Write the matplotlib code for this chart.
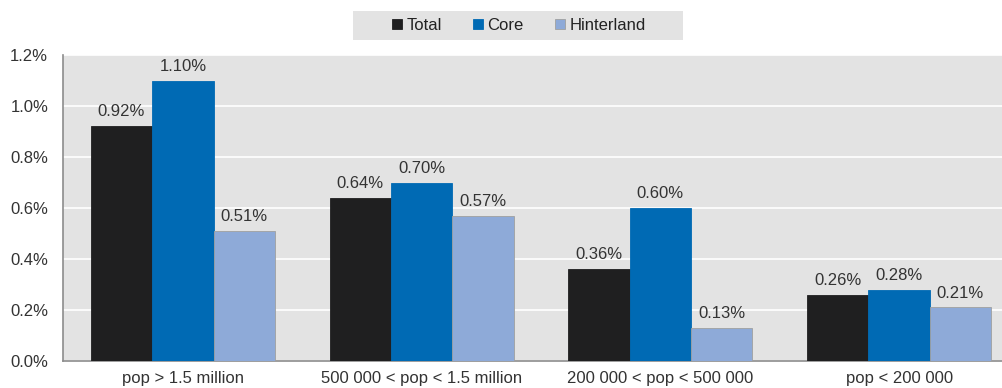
import numpy as np
import matplotlib
matplotlib.use("Agg")
import matplotlib.pyplot as plt
from matplotlib.ticker import FuncFormatter
from matplotlib.patches import Rectangle

categories = ["pop > 1.5 million", "500 000 < pop < 1.5 million",
              "200 000 < pop < 500 000", "pop < 200 000"]
total = [0.92, 0.64, 0.36, 0.26]
core = [1.10, 0.70, 0.60, 0.28]
hinterland = [0.51, 0.57, 0.13, 0.21]
series_names = ["Total", "Core", "Hinterland"]
colors = ["#1f1f20", "#006ab4", "#8eaad8"]


def main():
    plt.rcParams['font.family'] = ['Liberation Sans', 'DejaVu Sans']
    fig = plt.figure(figsize=(10.03, 3.88), dpi=100)
    # plot area runs past the right edge of the picture (cropped chart)
    ax = fig.add_axes([63.5 / 1003, 27 / 388, 955 / 1003, 306 / 388])
    ax.set_facecolor("#e3e3e3")

    x = np.arange(len(categories))
    w = 0.257
    handles = []
    for i, (vals, name, c) in enumerate(zip([total, core, hinterland], series_names, colors)):
        bars = ax.bar(x + (i - 1) * w, vals, w, color=c, label=name, zorder=3,
                      edgecolor="#a0a0a0" if i == 2 else c, linewidth=0.6)
        handles.append(bars)
        for xi, v in zip(x + (i - 1) * w, vals):
            ax.annotate("%.2f%%" % v, (xi, v), xytext=(0, 5), textcoords="offset points",
                        ha="center", va="bottom", fontsize=12, color="#333333", zorder=4)

    ax.set_xlim(-0.5, len(categories) - 0.5)
    ax.set_ylim(0, 1.2)
    ax.set_yticks(np.arange(0, 1.21, 0.2))
    ax.yaxis.set_major_formatter(FuncFormatter(lambda v, p: "%.1f%%" % v))
    ax.set_xticks(x)
    ax.set_xticklabels(categories)
    ax.tick_params(axis="both", length=0, labelsize=12, colors="#333333")
    ax.tick_params(axis="y", pad=11)
    ax.tick_params(axis="x", pad=7)
    ax.grid(axis="y", color="white", linewidth=1.2, zorder=0)
    for s in ["top", "right"]:
        ax.spines[s].set_visible(False)
    for s in ["left", "bottom"]:
        ax.spines[s].set_color("#8c8c8c")
        ax.spines[s].set_linewidth(1.2)

    # legend box at top
    fig.patches.append(Rectangle((353 / 1003, 1 - 40 / 388), 330 / 1003, 29 / 388,
                                 transform=fig.transFigure, facecolor="#e3e3e3",
                                 edgecolor="none", zorder=0))
    leg = fig.legend(handles=handles, labels=series_names, loc="center",
                     bbox_to_anchor=(519 / 1003, 1 - 25.5 / 388),
                     ncol=3, frameon=False, fontsize=12,
                     handlelength=0.6, handleheight=0.6, handletextpad=0.25,
                     columnspacing=1.9, borderpad=0.2)
    for t in leg.get_texts():
        t.set_color("#222222")

    fig.savefig("out.png", dpi=100)


if __name__ == '__main__':
    main()
